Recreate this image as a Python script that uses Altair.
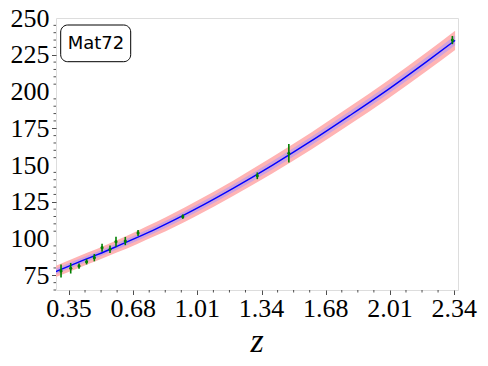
import altair as alt
import pandas as pd

z_obs = [0.309, 0.359, 0.402, 0.441, 0.481, 0.521, 0.562, 0.593, 0.641, 0.707, 0.938, 1.323, 1.486, 2.331]
H_obs = [77.9, 79.8, 81.3, 84.2, 87.0, 93.8, 92.7, 97.9, 98.3, 103.8, 114.9, 142.7, 158.0, 235.0]
H_err = [4.4, 3.6, 1.8, 1.8, 2.5, 2.7, 2.6, 3.4, 2.8, 2.0, 1.5, 2.3, 6.3, 2.8]

# best-fit curve and its 1-sigma half width
z_fit = [0.28, 0.4, 0.5, 0.6, 0.7, 0.8, 0.9, 1.0, 1.2, 1.4, 1.6, 1.8, 2.0, 2.2, 2.345]
H_fit = [77.5, 84.0, 89.2, 94.8, 100.6, 106.6, 113.0, 119.8, 134.3, 149.8, 166.2, 183.6, 201.5, 220.5, 234.8]
sig_fit = [1.9, 2.0, 2.0, 2.1, 2.2, 2.3, 2.4, 2.5, 2.6, 2.8, 2.9, 3.0, 3.1, 3.2, 3.3]

x_major = [0.35, 0.6817, 1.0133, 1.345, 1.6767, 2.0083, 2.34]
x_labels = ["0.35", "0.68", "1.01", "1.34", "1.68", "2.01", "2.34"]
y_major = [75, 100, 125, 150, 175, 200, 225, 250]
y_labels = ["75", "100", "125", "150", "175", "200", "225", "250"]

label_text = "Mat72"
x_title = "z"

obs = pd.DataFrame({"z": z_obs, "H": H_obs,
                    "lo": [h - e for h, e in zip(H_obs, H_err)],
                    "hi": [h + e for h, e in zip(H_obs, H_err)]})
fit = pd.DataFrame({"z": z_fit, "H": H_fit,
                    "lo1": [h - s for h, s in zip(H_fit, sig_fit)],
                    "hi1": [h + s for h, s in zip(H_fit, sig_fit)],
                    "lo2": [h - 2 * s for h, s in zip(H_fit, sig_fit)],
                    "hi2": [h + 2 * s for h, s in zip(H_fit, sig_fit)]})

# minor ticks (axis decoration)
x_minor = []
for a, b in zip(x_major[:-1], x_major[1:]):
    step = (b - a) / 4
    x_minor += [round(a + i * step, 5) for i in range(1, 4)]
y_minor = [v for v in range(65, 251, 5) if v % 25 != 0]

serif = "Liberation Serif"
W, H = 402, 272

x_scale = alt.Scale(domain=[0.283, 2.36], nice=False, zero=False)
y_scale = alt.Scale(domain=[65, 250], nice=False, zero=False)

x_axis = alt.Axis(values=x_major, labels=False, title=None,
                  tickColor="#222", tickWidth=0.8, tickSize=4.5,
                  grid=False, domain=False)
y_axis = alt.Axis(values=y_major, labels=False, title=None,
                  tickColor="#222", tickWidth=0.8, tickSize=4.5,
                  grid=False, domain=False)

base_fit = alt.Chart(fit)
band2 = base_fit.mark_area(color="#ffb4b4", interpolate="monotone", clip=True).encode(
    x=alt.X("z:Q", scale=x_scale, axis=x_axis),
    y=alt.Y("lo2:Q", scale=y_scale, axis=y_axis),
    y2="hi2:Q")
band1 = base_fit.mark_area(color="#cfa3dc", interpolate="monotone", clip=True).encode(
    x="z:Q", y="lo1:Q", y2="hi1:Q")
line = base_fit.mark_line(color="#0000ff", strokeWidth=1.4, interpolate="monotone", clip=True).encode(
    x="z:Q", y="H:Q")

base_obs = alt.Chart(obs)
errs = base_obs.mark_rule(color="#008000", strokeWidth=1.6).encode(
    x="z:Q", y="lo:Q", y2="hi:Q")
pts = base_obs.mark_point(color="#008000", filled=True, opacity=1, size=10).encode(
    x="z:Q", y="H:Q")

xm = alt.Chart(pd.DataFrame({"z": x_minor})).mark_rule(color="#222", strokeWidth=0.8).encode(
    x="z:Q", y=alt.value(H), y2=alt.value(H + 2.5))
ym = alt.Chart(pd.DataFrame({"H": y_minor})).mark_rule(color="#222", strokeWidth=0.8).encode(
    y="H:Q", x=alt.value(0), x2=alt.value(-2.5))

# tick labels as text drawn through the scales
xl = alt.Chart(pd.DataFrame({"z": x_major, "lab": x_labels})).mark_text(
    font=serif, fontSize=26, color="black", align="center", baseline="alphabetic").encode(
    x="z:Q", y=alt.value(H + 27), text="lab:N")
yl = alt.Chart(pd.DataFrame({"H": y_major, "lab": y_labels})).mark_text(
    font=serif, fontSize=26, color="black", align="right", baseline="alphabetic", dy=8.5).encode(
    y="H:Q", x=alt.value(-6.5), text="lab:N")

one = pd.DataFrame({"t": [label_text], "xt": [x_title]})
xt = alt.Chart(one).mark_text(font=serif, fontSize=34, fontStyle="italic", color="black",
                              align="center", baseline="alphabetic").encode(
    x=alt.value(W / 2), y=alt.value(H + 62), text="xt:N")
box = alt.Chart(one).mark_rect(fill="white", stroke="black", strokeWidth=1, cornerRadius=7).encode(
    x=alt.value(4.7), x2=alt.value(74.7), y=alt.value(7), y2=alt.value(43.7))
txt = alt.Chart(one).mark_text(font="DejaVu Sans", fontSize=18, color="black",
                               align="center", baseline="middle").encode(
    x=alt.value(40), y=alt.value(25.5), text="t:N")

chart = alt.layer(band2, band1, line, errs, pts, xm, ym, xl, yl, xt, box, txt).properties(
    width=W, height=H,
    padding={"left": 48, "top": 10, "right": 22, "bottom": 68},
    autosize=alt.AutoSizeParams(type="none"),
).configure_view(stroke="#444", strokeWidth=1).configure(background="white")

chart.save("out.html", embed_options={"renderer": "svg", "actions": False})
